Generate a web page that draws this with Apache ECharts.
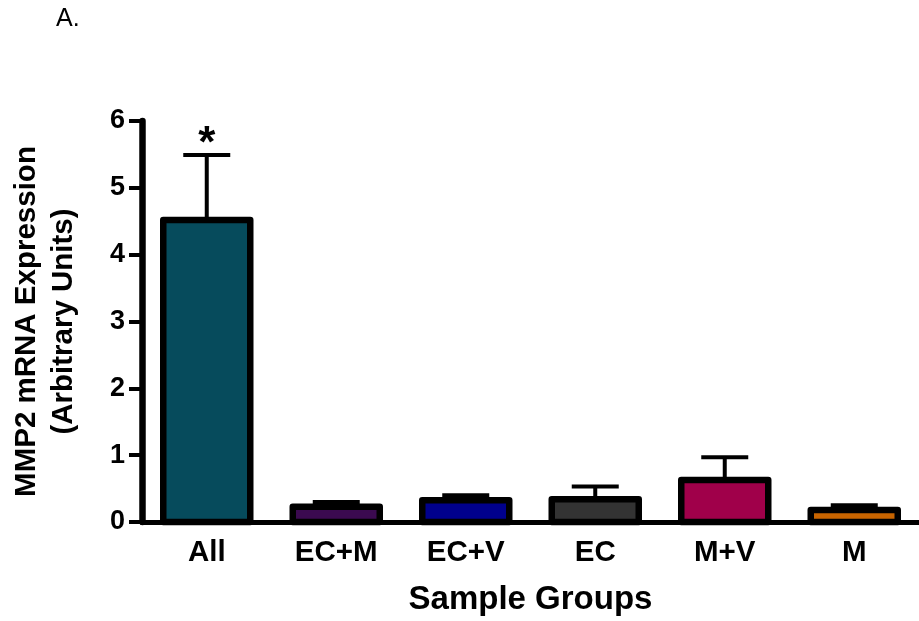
<!DOCTYPE html>
<html>
<head>
<meta charset="utf-8">
<script src="https://cdn.jsdelivr.net/npm/echarts@6/dist/echarts.min.js"></script>
<style>
  html, body { margin: 0; padding: 0; background: #ffffff; }
  #chart { width: 919px; height: 621px; }
</style>
</head>
<body>
<div id="chart"></div>
<script>
// MMP2 mRNA expression by sample group (mean with upper SEM bar)
const categories = ['All', 'EC+M', 'EC+V', 'EC', 'M+V', 'M'];
const meanValues = [4.52, 0.23, 0.325, 0.34, 0.63, 0.18];
const errorTops = [5.49, 0.30, 0.40, 0.53, 0.97, 0.25];
const significance = ['*', '', '', '', '', ''];
const barColors = ['#064b5c', '#3b0a50', '#00008c', '#333333', '#a0004a', '#c86400'];
const yTicks = [0, 1, 2, 3, 4, 5, 6];

const FONT = '"Liberation Sans", Arial, sans-serif';
const BAR_WIDTH = 87;
const BAR_BORDER = 6.5;

const chart = echarts.init(document.getElementById('chart'), null, { renderer: 'canvas' });

// Bars drawn with the outline centred on the mean, Prism style
function renderBar(params, api) {
  const i = api.value(0);
  const top = api.coord([i, api.value(1)]);
  const base = api.coord([i, 0]);
  return {
    type: 'rect',
    shape: { x: top[0] - BAR_WIDTH / 2, y: top[1], width: BAR_WIDTH, height: base[1] - top[1] },
    style: {
      fill: barColors[params.dataIndex],
      stroke: '#000',
      lineWidth: BAR_BORDER,
      lineJoin: 'round'
    }
  };
}

// Upper error whisker with cap, plus significance mark
function renderError(params, api) {
  const i = api.value(0);
  const base = api.coord([i, api.value(1)]);
  const top = api.coord([i, api.value(2)]);
  const capHalf = 23.5;
  const children = [
    {
      type: 'line',
      shape: { x1: base[0], y1: base[1], x2: top[0], y2: top[1] },
      style: { stroke: '#000', lineWidth: 4 }
    },
    {
      type: 'line',
      shape: { x1: top[0] - capHalf, y1: top[1], x2: top[0] + capHalf, y2: top[1] },
      style: { stroke: '#000', lineWidth: 4 }
    }
  ];
  const mark = significance[params.dataIndex];
  if (mark) {
    children.push({
      type: 'text',
      x: top[0],
      y: top[1] - 10,
      style: {
        text: mark,
        font: 'bold 44px ' + FONT,
        fill: '#000',
        align: 'center',
        verticalAlign: 'middle'
      }
    });
  }
  return { type: 'group', children: children };
}

const option = {
  animation: false,
  backgroundColor: '#ffffff',
  graphic: [
    {
      type: 'text',
      left: 56,
      top: 7,
      style: { text: 'A.', font: '25px ' + FONT, fill: '#000' }
    }
  ],
  grid: { left: 138, top: 121, height: 402, width: 786, containLabel: false },
  xAxis: {
    type: 'category',
    data: categories,
    name: 'Sample Groups',
    nameLocation: 'middle',
    nameGap: 61,
    nameTextStyle: { fontFamily: FONT, fontWeight: 'bold', fontSize: 33, color: '#000', verticalAlign: 'top' },
    axisLine: { lineStyle: { color: '#000', width: 5 } },
    axisTick: { alignWithLabel: true, length: 11, lineStyle: { color: '#000', width: 4 } },
    axisLabel: { fontFamily: FONT, fontWeight: 'bold', fontSize: 29.5, color: '#000', margin: 16 }
  },
  yAxis: {
    type: 'value',
    min: yTicks[0],
    max: yTicks[yTicks.length - 1],
    interval: 1,
    name: 'MMP2 mRNA Expression\n(Arbitrary Units)',
    nameLocation: 'middle',
    nameRotate: 90,
    nameGap: 60,
    nameTextStyle: { fontFamily: FONT, fontWeight: 'bold', fontSize: 29.5, color: '#000', lineHeight: 37 },
    splitLine: { show: false },
    axisLine: { show: true, lineStyle: { color: '#000', width: 6.5 } },
    axisTick: { show: true, length: 13, lineStyle: { color: '#000', width: 4 } },
    axisLabel: { fontFamily: FONT, fontWeight: 'bold', fontSize: 27, color: '#000', margin: 17 }
  },
  series: [
    {
      type: 'custom',
      name: 'error',
      data: categories.map((c, i) => [i, meanValues[i], errorTops[i]]),
      encode: { x: 0, y: [1, 2] },
      z: 2,
      renderItem: renderError
    },
    {
      type: 'custom',
      name: 'mean',
      data: categories.map((c, i) => [i, meanValues[i]]),
      encode: { x: 0, y: 1 },
      z: 3,
      renderItem: renderBar
    }
  ]
};

chart.setOption(option);
</script>
</body>
</html>
